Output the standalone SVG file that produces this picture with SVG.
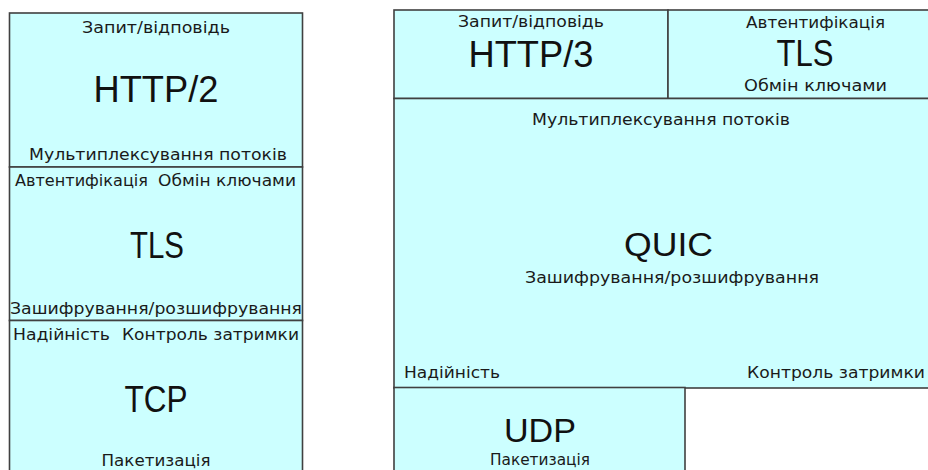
<svg xmlns="http://www.w3.org/2000/svg" width="928" height="470" viewBox="0 0 928 470">
<style>
.box{fill:#CCFFFF;stroke:#404040;stroke-width:1.6}
.s{font-family:"DejaVu Sans","Liberation Sans",Arial,sans-serif;font-size:15.5px;fill:#1a1a1a}
.b{font-family:"Liberation Sans",Arial,sans-serif;font-size:36px;fill:#111}
.m{font-family:"Liberation Sans",Arial,sans-serif;font-size:34px;fill:#111}
.c{text-anchor:middle}
.e{text-anchor:end}
</style>
<rect width="928" height="470" fill="#ffffff"/>
<g id="http2">
<rect class="box" x="9.5" y="13" width="293" height="154"/>
<text class="s c" x="156" y="33" textLength="148" lengthAdjust="spacingAndGlyphs">Запит/відповідь</text>
<text class="b c" x="156" y="102" textLength="125" lengthAdjust="spacingAndGlyphs">HTTP/2</text>
<text class="s c" x="158" y="160" textLength="258" lengthAdjust="spacingAndGlyphs">Мультиплексування потоків</text>
</g>
<g id="tls-left">
<rect class="box" x="9.5" y="167" width="293" height="153.5"/>
<text class="s" x="15" y="186" textLength="133" lengthAdjust="spacingAndGlyphs">Автентифікація</text>
<text class="s" x="158" y="186" textLength="138" lengthAdjust="spacingAndGlyphs">Обмін ключами</text>
<text class="b c" x="157" y="258" textLength="54" lengthAdjust="spacingAndGlyphs">TLS</text>
<text class="s c" x="156" y="314" textLength="292" lengthAdjust="spacingAndGlyphs">Зашифрування/розшифрування</text>
</g>
<g id="tcp">
<rect class="box" x="9.5" y="320.5" width="293" height="170"/>
<text class="s" x="13" y="340" textLength="97" lengthAdjust="spacingAndGlyphs">Надійність</text>
<text class="s" x="122" y="340" textLength="177" lengthAdjust="spacingAndGlyphs">Контроль затримки</text>
<text class="b c" x="156" y="412" textLength="63" lengthAdjust="spacingAndGlyphs">TCP</text>
<text class="s c" x="156" y="466" textLength="109" lengthAdjust="spacingAndGlyphs">Пакетизація</text>
</g>
<g id="http3">
<rect class="box" x="394" y="10" width="274" height="88.5"/>
<text class="s c" x="531" y="27" textLength="146" lengthAdjust="spacingAndGlyphs">Запит/відповідь</text>
<text class="b c" x="531" y="67" textLength="125" lengthAdjust="spacingAndGlyphs">HTTP/3</text>
</g>
<g id="tls-right">
<rect class="box" x="668" y="10" width="280" height="88.5"/>
<text class="s c" x="815.5" y="28" textLength="139" lengthAdjust="spacingAndGlyphs">Автентифікація</text>
<text class="b c" x="805" y="66" textLength="57" lengthAdjust="spacingAndGlyphs">TLS</text>
<text class="s c" x="815.5" y="91" textLength="143" lengthAdjust="spacingAndGlyphs">Обмін ключами</text>
</g>
<g id="quic">
<rect class="box" x="394" y="98.5" width="554" height="289.5"/>
<text class="s c" x="661" y="125" textLength="258" lengthAdjust="spacingAndGlyphs">Мультиплексування потоків</text>
<text class="m c" x="668.5" y="256" textLength="89" lengthAdjust="spacingAndGlyphs">QUIC</text>
<text class="s c" x="672" y="283" textLength="294" lengthAdjust="spacingAndGlyphs">Зашифрування/розшифрування</text>
<text class="s" x="404" y="378" textLength="96" lengthAdjust="spacingAndGlyphs">Надійність</text>
<text class="s" x="747" y="378" textLength="178" lengthAdjust="spacingAndGlyphs">Контроль затримки</text>
</g>
<g id="udp">
<rect class="box" x="394" y="387.5" width="291" height="100"/>
<text class="m c" x="540" y="442" textLength="72" lengthAdjust="spacingAndGlyphs">UDP</text>
<text class="s c" x="540" y="465" textLength="100" lengthAdjust="spacingAndGlyphs">Пакетизація</text>
</g>
<g id="connectors"/>
</svg>
